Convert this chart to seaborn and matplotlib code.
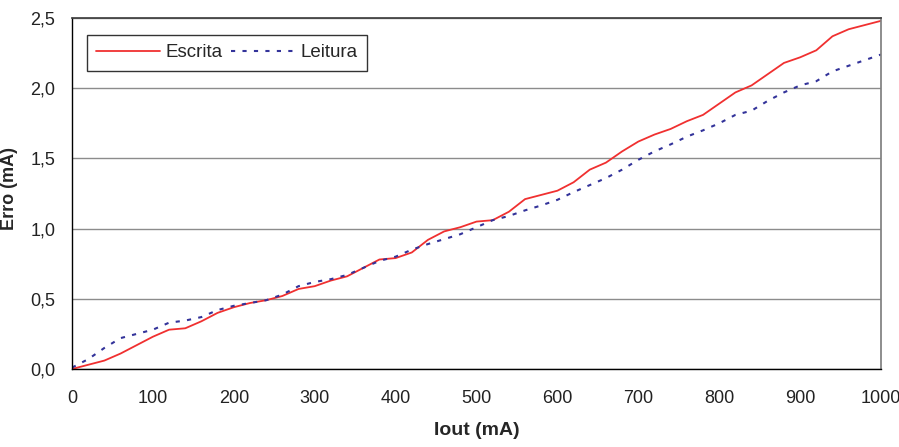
import numpy as np
import pandas as pd
import matplotlib
matplotlib.use("Agg")
import matplotlib.pyplot as plt
from matplotlib.ticker import FuncFormatter
import seaborn as sns

# Corrente de saida (mA)
iout = list(range(0, 1001, 20))

# Erro na escrita (mA)
escrita = [0.00, 0.03, 0.06, 0.11, 0.17, 0.23, 0.28, 0.29, 0.34, 0.40,
           0.44, 0.47, 0.49, 0.52, 0.57, 0.59, 0.63, 0.66, 0.72, 0.78,
           0.79, 0.83, 0.92, 0.98, 1.01, 1.05, 1.06, 1.12, 1.21, 1.24,
           1.27, 1.33, 1.42, 1.47, 1.55, 1.62, 1.67, 1.71, 1.765, 1.81,
           1.89, 1.97, 2.02, 2.10, 2.18, 2.22, 2.27, 2.37, 2.42, 2.45,
           2.48]

# Erro na leitura (mA)
leitura = [0.01, 0.07, 0.15, 0.22, 0.25, 0.28, 0.33, 0.345, 0.37, 0.42,
           0.45, 0.47, 0.49, 0.53, 0.59, 0.62, 0.64, 0.67, 0.72, 0.77,
           0.80, 0.85, 0.89, 0.925, 0.96, 1.01, 1.06, 1.09, 1.13, 1.165,
           1.205, 1.26, 1.31, 1.36, 1.42, 1.49, 1.55, 1.60, 1.655, 1.70,
           1.75, 1.81, 1.84, 1.91, 1.97, 2.02, 2.05, 2.12, 2.16, 2.20,
           2.24]

df = pd.DataFrame({"iout": iout, "Escrita": escrita, "Leitura": leitura})

sns.set_theme(style="white")
plt.rcParams["font.family"] = ["Liberation Sans", "DejaVu Sans"]

fig = plt.figure(figsize=(8.99, 4.47), dpi=100)
ax = fig.add_axes([0.0801, 0.1745, 0.8999, 0.7852])

sns.lineplot(data=df, x="iout", y="Escrita", ax=ax, color="#f03030",
             linewidth=1.3, label="Escrita")
sns.lineplot(data=df, x="iout", y="Leitura", ax=ax, color="#33339a",
             linewidth=1.5, linestyle=(0, (2, 3.5)), label="Leitura")

ax.set_xlim(0, 1000)
ax.set_ylim(0, 2.5)
ax.set_xticks(np.arange(0, 1001, 100))
ax.set_yticks(np.arange(0, 2.51, 0.5))
ax.yaxis.set_major_formatter(FuncFormatter(lambda v, p: f"{v:.1f}".replace(".", ",")))
ax.grid(axis="y", color="#8c8c8c", linewidth=1.0)
ax.set_axisbelow(True)

for side in ["left", "bottom"]:
    ax.spines[side].set_color("black")
    ax.spines[side].set_linewidth(1.0)
ax.spines["top"].set_color("#404040")
ax.spines["right"].set_color("#808080")

ax.tick_params(axis="both", which="major", direction="out", length=5, width=1,
               color="black", labelsize=13, labelcolor="#222222")
ax.tick_params(axis="x", pad=10)
ax.tick_params(axis="y", pad=7)

ax.set_xlabel("Iout (mA)", fontsize=14, fontweight="bold")
ax.set_ylabel("Erro (mA)", fontsize=13, fontweight="bold")
ax.xaxis.set_label_coords(0.5, -0.152)
ax.yaxis.set_label_coords(-0.0665, 0.515)

leg = ax.legend(loc="upper left", ncol=2, frameon=True, fancybox=False,
                fontsize=13.5, handlelength=3.4, columnspacing=0.45,
                handletextpad=0.3, borderpad=0.5, borderaxespad=0,
                bbox_to_anchor=(0.0185, 0.952))
leg.get_frame().set_edgecolor("black")
leg.get_frame().set_linewidth(1.0)

fig.savefig("out.png", dpi=100)
